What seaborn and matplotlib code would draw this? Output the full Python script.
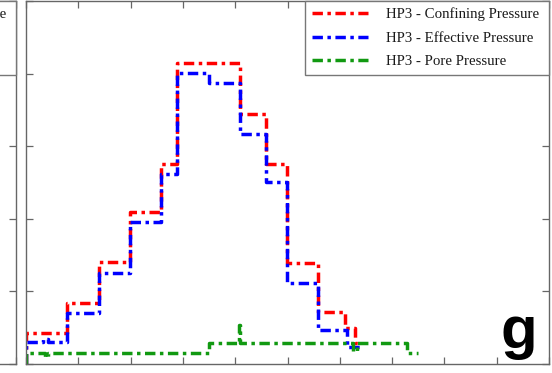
import matplotlib
matplotlib.use("Agg")
import matplotlib.pyplot as plt
from matplotlib.lines import Line2D
import seaborn as sns
import pandas as pd

sns.set_theme(style="white")
plt.rcParams["font.family"] = ["Liberation Serif", "DejaVu Serif"]

# Step profiles: bin edges and the level held from each edge to the next
conf_edges = [0.00, 0.78, 1.40, 1.99, 2.58, 2.89, 4.09, 4.59, 4.99, 5.58, 6.10, 6.29, 6.35]
conf_levels = [0.43, 0.84, 1.40, 2.09, 2.76, 4.15, 3.45, 2.76, 1.39, 0.71, 0.49, 0.29]

eff_edges = [0.00, 0.33, 0.43, 0.78, 1.40, 1.99, 2.58, 2.89, 3.50, 4.09, 4.59, 4.99, 5.58, 6.14, 6.39]
eff_levels = [0.30, 0.34, 0.30, 0.70, 1.25, 1.95, 2.62, 4.01, 3.87, 3.17, 2.50, 1.11, 0.47, 0.23]

pore_edges = [0.00, 0.36, 0.42, 3.50, 4.07, 4.10, 6.25, 6.33, 7.28, 7.50]
pore_levels = [0.15, 0.10, 0.15, 0.29, 0.54, 0.29, 0.18, 0.29, 0.15]

series = [
    ("HP3 - Confining Pressure", conf_edges, conf_levels, "#ff0000"),
    ("HP3 - Effective Pressure", eff_edges, eff_levels, "#0000ff"),
    ("HP3 - Pore Pressure", pore_edges, pore_levels, "#119911"),
]

W, H = 552, 373
fig = plt.figure(figsize=(W / 100, H / 100), dpi=100)

def px_axes(x0, x1, y0, y1):
    return fig.add_axes([x0 / W, 1 - y1 / H, (x1 - x0) / W, (y1 - y0) / H])

dash = (0, (3, 1.3, 1, 1.3))
spine_col = "#666666"

def style_axes(ax):
    ax.set_xlim(0, 10)
    ax.set_ylim(0, 5)
    ax.set_xticks(range(0, 11))
    ax.set_yticks(range(0, 6))
    ax.tick_params(direction="in", length=5, width=0.9, color=spine_col,
                   top=True, right=True, bottom=True, left=True,
                   labelbottom=False, labelleft=False)
    for s in ax.spines.values():
        s.set_color(spine_col)
        s.set_linewidth(1.0)
    ax.set_xlabel("")
    ax.set_ylabel("")

# legend box spans from 47% of the panel width to its right edge
legend_kw = dict(loc="upper right", bbox_to_anchor=(0.534, 0.0, 0.466, 1.0),
                 mode="expand", borderaxespad=0, fancybox=False,
                 framealpha=1, edgecolor="#777777", fontsize=10.7,
                 handlelength=3.8, handletextpad=1.15, labelspacing=0.68,
                 borderpad=0.45)

def finish_legend(lg):
    lg.get_frame().set_linewidth(1.0)
    for t in lg.get_texts():
        t.set_color("#1a1a1a")

# neighbouring panel on the left (only its right edge falls on the canvas)
axl = px_axes(16 - 523, 16, 1, 364)
style_axes(axl)
left_handles = [Line2D([], [], color=c, lw=2.5, linestyle=dash) for _, _, _, c in series]
left_labels = ["HP2 - Confining Pressure", "HP2 - Effective Pressure", "HP2 - Pore Pressure"]
finish_legend(axl.legend(left_handles, left_labels, **legend_kw))

# main panel
ax = px_axes(26, 549, 1, 364)
for label, edges, levels, color in series:
    xs = [edges[0]] + list(edges)
    ys = [0.0] + list(levels) + [levels[-1]]
    df = pd.DataFrame({"x": xs, "y": ys})
    sns.lineplot(data=df, x="x", y="y", ax=ax, sort=False, estimator=None,
                 drawstyle="steps-post", color=color, lw=2.5,
                 linestyle=dash, label=label)
style_axes(ax)
finish_legend(ax.legend(**legend_kw))

fig.text(537 / W, 1 - 348 / H, "g", ha="right", va="baseline", color="black",
         fontsize=43, fontweight="bold", family=["Liberation Sans", "DejaVu Sans"])

fig.savefig("out.png", dpi=100)
